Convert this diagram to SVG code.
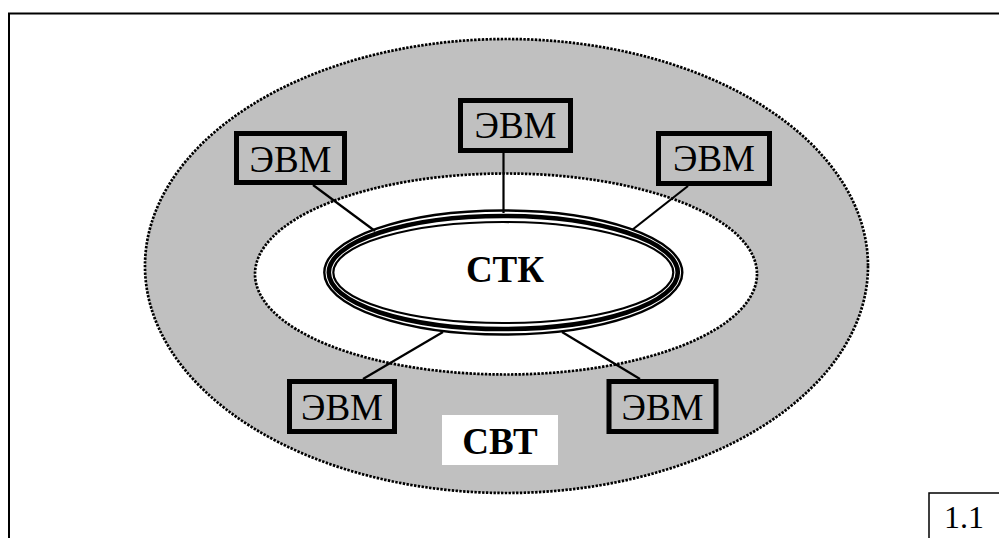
<svg xmlns="http://www.w3.org/2000/svg" width="999" height="538" viewBox="0 0 999 538">
<style>
.dot{stroke:#000;stroke-width:2.7;stroke-dasharray:2.4 1.4}
.box{fill:#c0c0c0;stroke:#000;stroke-width:5}
.lbl{font-family:"Liberation Serif","Times New Roman","DejaVu Serif",serif;font-size:37px;fill:#000;text-anchor:middle}
.bold{font-weight:bold}
.conn{stroke:#000;stroke-width:2.2;fill:none}
.ring{fill:none;stroke:#000}
</style>
<rect width="999" height="538" fill="#fff"/>
<rect x="9" y="13.5" width="1000" height="600" fill="none" stroke="#000" stroke-width="2"/>
<g id="svt">
<ellipse cx="506.5" cy="266" rx="361.5" ry="227" fill="#c0c0c0" class="dot"/>
</g>
<g id="inner-zone">
<ellipse cx="506" cy="274" rx="251" ry="100.5" fill="#fff" class="dot"/>
</g>
<g id="connectors">
<line class="conn" x1="313" y1="185" x2="375" y2="231"/>
<line class="conn" x1="503.5" y1="153" x2="503.5" y2="213"/>
<line class="conn" x1="688" y1="186" x2="632" y2="230"/>
<line class="conn" x1="363" y1="379" x2="443" y2="332"/>
<line class="conn" x1="640" y1="379" x2="562" y2="332"/>
</g>
<g id="stk">
<ellipse cx="503.3" cy="272.5" rx="179" ry="62" fill="#fff" class="ring" stroke-width="2.4"/>
<ellipse cx="503.3" cy="272.5" rx="174.5" ry="56.5" class="ring" stroke-width="4.6"/>
<ellipse cx="503.3" cy="272.5" rx="170" ry="50.5" class="ring" stroke-width="2.2"/>
<text class="lbl bold" x="505" y="282">СТК</text>
</g>
<g id="evm-tl">
<rect class="box" x="236.5" y="133.5" width="108" height="49"/>
<text class="lbl" x="290.5" y="171.5">ЭВМ</text>
</g>
<g id="evm-top">
<rect class="box" x="460.5" y="100.5" width="110" height="50"/>
<text class="lbl" x="515.5" y="138">ЭВМ</text>
</g>
<g id="evm-tr">
<rect class="box" x="658.5" y="133.5" width="111" height="50"/>
<text class="lbl" x="714" y="171">ЭВМ</text>
</g>
<g id="evm-bl">
<rect class="box" x="289.5" y="381.5" width="105" height="50"/>
<text class="lbl" x="342" y="420">ЭВМ</text>
</g>
<g id="evm-br">
<rect class="box" x="609" y="381.5" width="107" height="50"/>
<text class="lbl" x="662.5" y="420">ЭВМ</text>
</g>
<g id="svt-label">
<rect x="442" y="415" width="116" height="50" fill="#fff"/>
<text class="lbl bold" x="500" y="454">СВТ</text>
</g>
<g id="fig-num">
<rect x="929" y="493" width="80" height="60" fill="#fff" stroke="#000" stroke-width="1.5"/>
<text x="964" y="528" font-family="'Liberation Serif','Times New Roman',serif" font-size="32" text-anchor="middle" fill="#000">1.1</text>
</g>
</svg>
